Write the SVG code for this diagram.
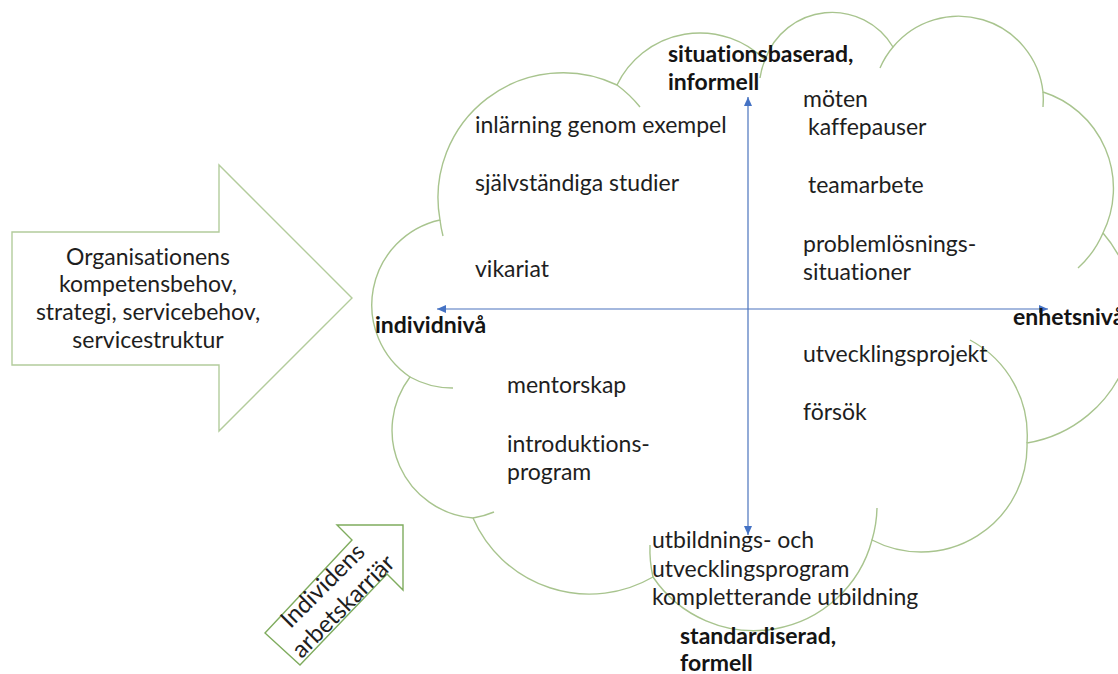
<svg xmlns="http://www.w3.org/2000/svg" width="1118" height="674" viewBox="0 0 1118 674">
<style>
  .t { font-family: Lato, "Liberation Sans", sans-serif; font-size: 23px; fill: #1e1e1e; font-variant-ligatures: none; }
  .b { font-family: Lato, "Liberation Sans", sans-serif; font-size: 23px; font-weight: bold; fill: #141414; font-variant-ligatures: none; }
  .cloud { fill: #ffffff; stroke: #a8c48e; stroke-width: 1.4; }
  .tail { fill: none; stroke: #a8c48e; stroke-width: 1.4; }
  .axis { stroke: #4a73bd; stroke-width: 1.2; fill: none; marker-start: url(#ah); marker-end: url(#ah); }
</style>
<defs>
  <marker id="ah" markerUnits="userSpaceOnUse" markerWidth="10" markerHeight="8" refX="9" refY="4" orient="auto-start-reverse">
    <path d="M0,0 L9,4 L0,8 z" fill="#4472c4"/>
  </marker>
</defs>
<rect width="1118" height="674" fill="#ffffff"/>

<g id="org-arrow">
  <polygon points="12,232 219,232 219,165 352,298 219,431 219,365 12,365" fill="#ffffff" stroke="#b3cc9c" stroke-width="1.4"/>
  <text class="t" text-anchor="middle" x="148" y="265">Organisationens</text>
  <text class="t" text-anchor="middle" x="148" y="292">kompetensbehov,</text>
  <text class="t" text-anchor="middle" x="148" y="320">strategi, servicebehov,</text>
  <text class="t" text-anchor="middle" x="148" y="348">servicestruktur</text>
</g>

<g id="career-arrow">
  <polygon points="265,633 352,540 337,525 403,525 403,590 387,574 300,665" fill="#ffffff" stroke="#7fac5e" stroke-width="1.4"/>
  <g transform="translate(334,597) rotate(-45)">
    <text class="t" text-anchor="middle" x="0" y="-8" style="font-size:24px">Individens</text>
    <text class="t" text-anchor="middle" x="0" y="21" style="font-size:24px">arbetskarriär</text>
  </g>
</g>

<g id="cloud">
  <path class="cloud" d="M440,220 A87,87 0 0 0 410,377 A88,88 0 0 0 473,518 A127,127 0 0 0 653,577 A122,122 0 0 0 872,540 A106,106 0 0 0 1027,443 A128,128 0 0 0 1103,233 A101,101 0 0 0 1043,92 A85,85 0 0 0 893,47 A71,71 0 0 0 765,60 A92,92 0 0 0 617,85 A125,125 0 0 0 440,220 Z"/>
  <path class="tail" d="M440,220 A125,125 0 0 0 443,236"/>
  <path class="tail" d="M410,377 A87,87 0 0 0 453,388"/>
  <path class="tail" d="M473,518 A88,88 0 0 0 494,512"/>
  <path class="tail" d="M650,545 A122,122 0 0 0 653,577"/>
  <path class="tail" d="M872,540 A122,122 0 0 0 877,508"/>
  <path class="tail" d="M1027,443 A108,108 0 0 0 970,340"/>
  <path class="tail" d="M1078,268 A101,101 0 0 0 1103,233"/>
  <path class="tail" d="M1043,107 A85,85 0 0 0 1043,92"/>
  <path class="tail" d="M893,47 A85,85 0 0 0 880,68"/>
  <path class="tail" d="M765,60 A71,71 0 0 0 760,78"/>
  <path class="tail" d="M640,107 A125,125 0 0 0 617,85"/>
</g>

<g id="connectors">
  <line class="axis" x1="437" y1="309" x2="1048" y2="309"/>
  <line class="axis" x1="748" y1="97" x2="748" y2="535"/>
</g>

<g id="axis-labels">
  <text class="b" x="668" y="62">situationsbaserad,</text>
  <text class="b" x="668" y="90">informell</text>
  <text class="b" x="375" y="333">individnivå</text>
  <text class="b" x="1013" y="325">enhetsnivå</text>
  <text class="b" x="680" y="644">standardiserad,</text>
  <text class="b" x="680" y="671">formell</text>
</g>

<g id="q-top-left">
  <text class="t" x="475" y="133">inlärning genom exempel</text>
  <text class="t" x="475" y="191">självständiga studier</text>
  <text class="t" x="475" y="277">vikariat</text>
</g>
<g id="q-top-right">
  <text class="t" x="803" y="107">möten</text>
  <text class="t" x="808" y="135">kaffepauser</text>
  <text class="t" x="808" y="193">teamarbete</text>
  <text class="t" x="803" y="252">problemlösnings-</text>
  <text class="t" x="803" y="280">situationer</text>
</g>
<g id="q-bottom-left">
  <text class="t" x="507" y="393">mentorskap</text>
  <text class="t" x="507" y="452">introduktions-</text>
  <text class="t" x="507" y="480">program</text>
</g>
<g id="q-bottom-right">
  <text class="t" x="803" y="362">utvecklingsprojekt</text>
  <text class="t" x="803" y="420">försök</text>
</g>
<g id="q-bottom">
  <text class="t" x="652" y="548">utbildnings- och</text>
  <text class="t" x="652" y="577">utvecklingsprogram</text>
  <text class="t" x="652" y="605">kompletterande utbildning</text>
</g>
</svg>
